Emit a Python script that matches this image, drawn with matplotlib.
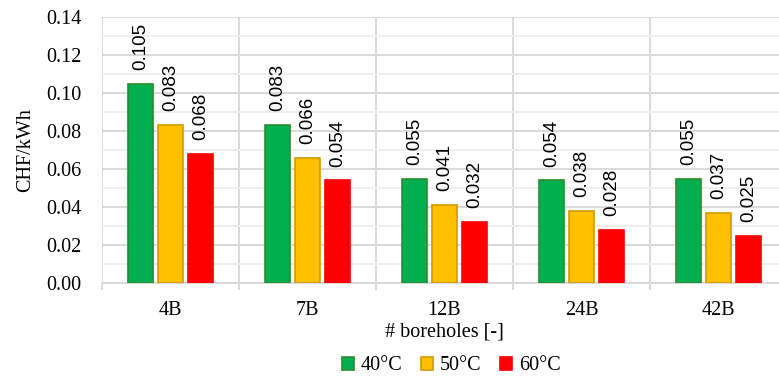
import matplotlib.pyplot as plt
from matplotlib.patches import Patch
import numpy as np

categories = ['4B', '7B', '12B', '24B', '42B']
series_names = ['40°C', '50°C', '60°C']
v40 = [0.105, 0.083, 0.055, 0.054, 0.055]
v50 = [0.083, 0.066, 0.041, 0.038, 0.037]
v60 = [0.068, 0.054, 0.032, 0.028, 0.025]

faces = ['#00B050', '#FFC000', '#FF0000']
edges = ['#2E8B2E', '#D49A00', '#FF0000']

plt.rcParams['font.family'] = ['Liberation Serif', 'DejaVu Serif']
fs = 14.5

fig = plt.figure(figsize=(7.79, 3.79), dpi=100)
ax = fig.add_axes([102 / 779, 1 - 283 / 379, 685 / 779, 266 / 379])

x = np.arange(len(categories))
width = 0.18
step = 0.22
for k, vals in enumerate([v40, v50, v60]):
    xs = x + (k - 1) * step
    ax.bar(xs, vals, width, color=faces[k], edgecolor=edges[k], linewidth=1.2, zorder=3)
    for xi, v in zip(xs, vals):
        ax.annotate('%.3f' % v, (xi, v), xytext=(0, 10), textcoords='offset points',
                    rotation=90, ha='center', va='bottom', fontsize=13.5,
                    family=['Liberation Sans', 'DejaVu Sans'], color='#000000')

ax.set_xlim(-0.5, len(categories) - 0.5)
ax.set_ylim(0, 0.14)
ax.set_yticks(np.arange(0, 0.141, 0.02))
ax.set_yticklabels(['%.2f' % t for t in np.arange(0, 0.141, 0.02)])
ax.set_yticks(np.arange(0.01, 0.14, 0.02), minor=True)
ax.grid(axis='y', which='major', color='#D9D9D9', linewidth=1.4, zorder=0)
ax.grid(axis='y', which='minor', color='#EEEEEE', linewidth=1.4, zorder=0)

# category separators as major x ticks, names as minor ticks
ax.set_xticks(np.arange(-0.5, len(categories), 1.0))
ax.set_xticklabels([])
ax.set_xticks(x, minor=True)
ax.set_xticklabels(categories, minor=True)
ax.grid(axis='x', which='major', color='#D9D9D9', linewidth=1.4, zorder=0)
ax.tick_params(axis='x', which='major', length=5, width=1.4, color='#D9D9D9')
ax.tick_params(axis='x', which='minor', length=0, pad=13, labelsize=fs)
ax.tick_params(axis='y', which='both', length=0, pad=15, labelsize=fs)

for s in ['top', 'right', 'left']:
    ax.spines[s].set_visible(False)
ax.spines['bottom'].set_color('#D9D9D9')
ax.spines['bottom'].set_linewidth(1.4)

ax.set_ylabel('CHF/kWh', fontsize=fs)
ax.yaxis.set_label_coords(-0.098, 0.5)
ax.set_xlabel('# boreholes [-]', fontsize=fs, labelpad=2)

handles = [Patch(facecolor=faces[i], edgecolor=edges[i], linewidth=1.2, label=series_names[i]) for i in range(3)]
fig.legend(handles=handles, loc='center', bbox_to_anchor=(451 / 779, 1 - 366 / 379), ncol=3,
           frameon=False, fontsize=fs, handlelength=0.6, handleheight=0.6,
           handletextpad=0.35, columnspacing=0.9)

fig.savefig('out.png', dpi=100)
